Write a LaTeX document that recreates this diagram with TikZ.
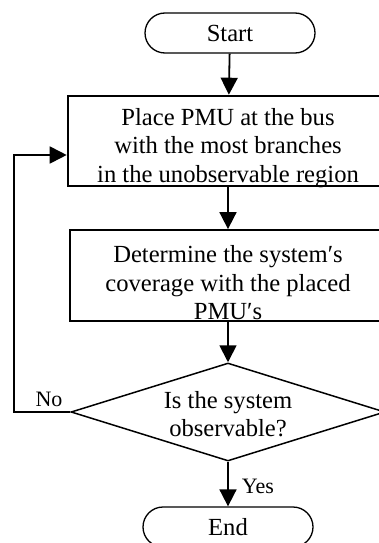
\documentclass[tikz,border=0pt]{standalone}
\usepackage{fontspec}
\setmainfont{Liberation Serif}
\usetikzlibrary{shapes.geometric,arrows.meta,positioning}

\tikzset{
  terminal/.style={draw, line width=1.3pt, rounded corners=20pt, minimum width=170pt, minimum height=40pt, inner sep=0pt},
  stepbox/.style={draw, rectangle, inner sep=0pt},
  decision/.style={draw, diamond, line width=1.5pt, minimum width=314pt, minimum height=98pt, inner sep=0pt},
  flowtext/.style={align=center, inner sep=0pt, font=\fontsize{24.6}{28.5}\selectfont},
  flowlabel/.style={inner sep=0pt, font=\fontsize{22}{24}\selectfont},
  flowline/.style={line width=1.8pt}
}

\begin{document}
\begin{tikzpicture}[x=1pt, y=-1pt, >={Triangle[length=17pt,width=17pt]}]

	\useasboundingbox (0,0) rectangle (379,543);
	\clip (0,0) rectangle (379,543);

	% start / end
	\node[terminal, flowtext] (start) at (230,33) {Start};
	\node[terminal, flowtext] (finish) at (228,527) {End};

	% the two steps
	\node[stepbox, line width=2.6pt, minimum width=320pt, minimum height=90pt] (place) at (228,141) {};
	\node[flowtext] (placetext) at (228,148) {Place PMU at the bus\\with the most branches\\in the unobservable region};

	\node[stepbox, line width=1.8pt, minimum width=316pt, minimum height=91pt] (cover) at (228,275.5) {};
	\node[flowtext] (covertext) at (228,283) {Determine the system\char"2032 s\\coverage with the placed\\PMU\char"2032 s};

	% observability test
	\node[decision] (check) at (228,412) {};
	\node[flowtext] (checktext) at (228,414) {Is the system\\observable?};

	\coordinate (loopin) at ([yshift=-14pt]place.west);

	% connectors
	\draw[flowline, ->] (start) -- (place);
	\draw[flowline, ->] (place) -- (cover);
	\draw[flowline, ->] (cover) -- (check);
	\draw[flowline, ->] (check) -- (finish) node[flowlabel, right=13pt, pos=0.55] (yes) {Yes};
	\draw[flowline, ->] (check.west) -- (check.west -| 14,0) |- (loopin);
	\node[flowlabel] (no) at (49,399) {No};

\end{tikzpicture}
\end{document}
